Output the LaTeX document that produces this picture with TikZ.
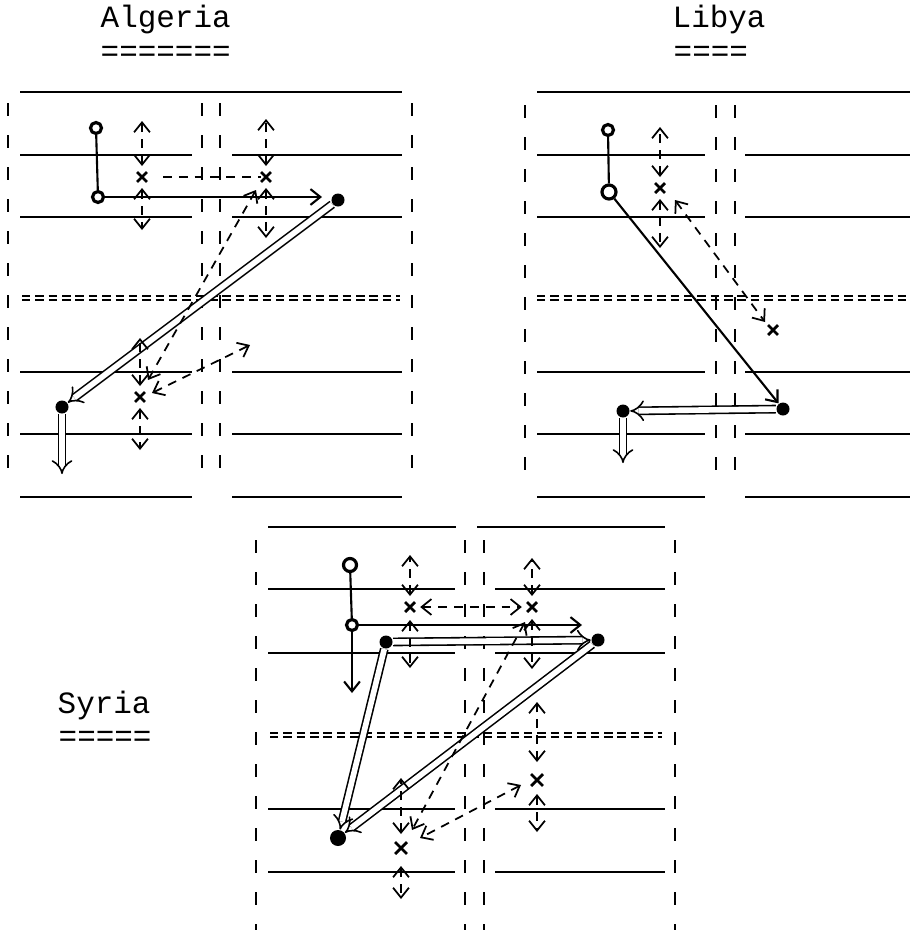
\documentclass[tikz,border=0pt]{standalone}
\usepackage{fontspec}
\setmonofont{Liberation Mono}
\usetikzlibrary{arrows.meta,shapes.misc}

\begin{document}
\begin{tikzpicture}[x=0.01cm,y=-0.01cm,
    >={Straight Barb[length=2.8pt,width=4.5pt]},
    title/.style={font=\ttfamily\fontsize{8.8}{10}\selectfont,inner sep=0pt,anchor=base west},
    ruled/.style={line width=0.5pt},
    typebar/.style={line width=0.5pt,dash pattern=on 3.7pt off 5.4pt},
    eqline/.style={line width=0.45pt,dash pattern=on 2.4pt off 1.4pt},
    hollow/.style={circle,draw,line width=0.9pt,inner sep=0pt,minimum size=0.11cm},
    dot/.style={circle,fill,inner sep=0pt,minimum size=0.13cm},
    xmark/.style={cross out,draw,line width=0.8pt,inner sep=0pt,minimum size=0.07cm},
    guess/.style={dash pattern=on 2.5pt off 2pt,<->,line width=0.5pt},
    dbl/.style={double,double distance=1.6pt,line width=0.45pt,-{Implies}}]
    \useasboundingbox (0,0) rectangle (913,930);

    % Titles
    \node[title] (algeria) at (100,27) {Algeria};
    \node[title] (algeriaeq) at (100,61) {=======};
    \node[title] (libya) at (672,27) {Libya};
    \node[title] (libyaeq) at (673,61) {====};
    \node[title] (syria) at (57,713) {Syria};
    \node[title] (syriaeq) at (58,746) {=====};

    % Algeria grid
    \draw[ruled] (20,92) -- (402,92);
    \foreach \y in {155,217,372,434,497}
        \draw[ruled] (20,\y) -- (192,\y) (232,\y) -- (402,\y);
    \foreach \x in {8,202,220,412}
        \draw[typebar] (\x,103) -- (\x,487);
    \draw[eqline] (22,296) -- (400,296) (22,300) -- (400,300);

    % Libya grid
    \draw[ruled] (537,92) -- (910,92);
    \foreach \y in {155,217,372,434,497}
        \draw[ruled] (537,\y) -- (705,\y) (745,\y) -- (910,\y);
    \foreach \x in {525,716,735}
        \draw[typebar] (\x,105) -- (\x,487);
    \draw[eqline] (537,296) -- (910,296) (537,300) -- (910,300);

    % Syria grid
    \draw[ruled] (268,527) -- (456,527) (477,527) -- (665,527);
    \foreach \y in {589,653,809,872}
        \draw[ruled] (268,\y) -- (455,\y) (495,\y) -- (665,\y);
    \foreach \x in {256,465,484,675}
        \draw[typebar] (\x,540) -- (\x,930);
    \draw[eqline] (270,733) -- (662,733) (270,737) -- (662,737);

    % Algeria moves
    \node[hollow] (a1) at (96,128) {};
    \node[hollow] (a2) at (98,197) {};
    \node[dot] (a3) at (338,200) {};
    \node[dot] (a4) at (62,407) {};
    \node[xmark] (ax1) at (142,177) {};
    \node[xmark] (ax2) at (266,177) {};
    \node[xmark] (ax3) at (140,397) {};
    \coordinate (a5) at (62,474);
    \draw[line width=0.6pt] (a1) -- (a2);
    \draw[->,line width=0.6pt,shorten >=2.5pt] (a2) -- (a2 -| a3.west);
    \draw[dbl] (a3) -- (a4);
    \draw[dbl] (a4) -- (a5);
    \draw[dash pattern=on 2.5pt off 2pt,line width=0.5pt] (ax1) ++(21,0) -- (ax2.west);
    \draw[guess] (ax2) ++(-10,13) -- ++(-108,190);
    \draw[guess] (ax3) ++(12,-4) -- ++(98,-48);

    % Libya moves
    \node[hollow] (lb1) at (608,130) {};
    \node[hollow,minimum size=0.14cm] (lb2) at (609,192) {};
    \node[dot] (ld1) at (783,409) {};
    \node[dot] (ld2) at (623,411) {};
    \node[xmark] (lx1) at (660,188) {};
    \node[xmark] (lx2) at (773,330) {};
    \coordinate (ld3) at (623,463);
    \draw[line width=0.6pt] (lb1) -- (lb2);
    \draw[->,line width=0.6pt] (lb2) -- (ld1);
    \draw[dbl] (ld1) -- (ld2);
    \draw[dbl] (ld2) -- (ld3);
    \draw[guess] (lx1) ++(15,12) -- ++(90,122);

    % Syria moves
    \node[hollow,minimum size=0.13cm] (sb1) at (350,565) {};
    \node[hollow] (sb2) at (352,625) {};
    \node[dot] (sd1) at (386,642) {};
    \node[dot] (sd2) at (598,640) {};
    \node[dot,minimum size=0.16cm] (sd3) at (338,838) {};
    \node[xmark] (sx1) at (410,607) {};
    \node[xmark] (sx2) at (532,607) {};
    \node[xmark,minimum size=0.09cm] (sx3) at (537,780) {};
    \node[xmark,minimum size=0.09cm] (sx4) at (401,848) {};
    \coordinate (sb3) at (352,693);
    \coordinate (sb4) at (582,625);
    \draw[line width=0.6pt] (sb1) -- (sb2);
    \draw[->,line width=0.6pt] (sb2) -- (sb3);
    \draw[->,line width=0.6pt] (sb2) -- (sb4);
    \draw[dbl] (sd1) -- (sd2);
    \draw[dbl] (sd1) -- (sd3);
    \draw[dbl] (sd2) -- (sd3);
    \draw[guess,shorten <=1.5pt,shorten >=1.5pt] (sx1) -- (sx2);
    \draw[guess] (sx2) ++(-7,15) -- ++(-113,208);
    \draw[guess] (sx3) ++(-16,5) -- ++(-101,53);

    % Spreads above and below each x
    \foreach \n/\a/\u/\b/\d in {ax1/11/45/11/42, ax2/11/47/11/50, ax3/11/48/11/42,
                                 lx1/11/50/11/49,
                                 sx1/11/41/13/48, sx2/11/38/12/50, sx3/18/60/14/38, sx4/14/56/18/33}
    {
        \draw[guess] (\n) ++(0,-\a) -- ++(0,-\u);
        \draw[guess] (\n) ++(0,\b) -- ++(0,\d);
    }
\end{tikzpicture}
\end{document}
